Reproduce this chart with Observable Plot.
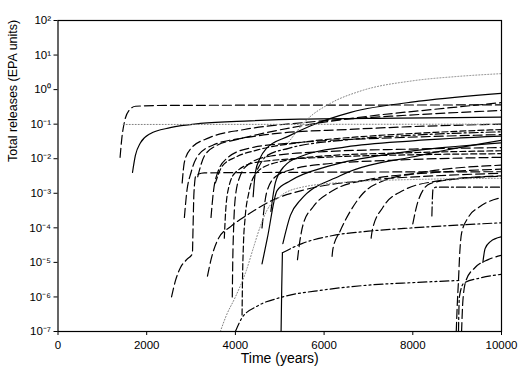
<!DOCTYPE html>
<html>
<head>
<meta charset="utf-8">
<script src="https://cdn.jsdelivr.net/npm/d3@7"></script>
<script src="https://cdn.jsdelivr.net/npm/@observablehq/plot@0.6"></script>
<style>
  html, body { margin: 0; padding: 0; background: #fff; }
</style>
</head>
<body>
<div id="chart"></div>
<script>
// ---- tick values / labels ----
const xTicks = [0, 2000, 4000, 6000, 8000, 10000];
const yTickExps = [-7, -6, -5, -4, -3, -2, -1, 0, 1, 2];
const xLabel = "Time (years)";
const yLabel = "Total releases (EPA units)";

// ---- release curves: [time (years), total release (EPA units)] ----
const c01 = [[1400,0.011],[1440,0.04],[1500,0.12],[1600,0.25],[1750,0.33],[2500,0.35],[10000,0.36]];
const c02 = [[1470,0.098],[10000,0.1]];
const c03 = [[1680,0.004],[1745,0.0124],[1860,0.029],[2080,0.053],[2530,0.079],[3210,0.105],[4330,0.125],[5460,0.14],[7700,0.15],[10000,0.16]];
const c04 = [[2560,1e-6],[2650,3e-6],[2760,7e-6],[2900,1.2e-5],[3030,1.8e-5],[3045,1e-4],[3065,1e-3],[3110,3.3e-3],[3300,3.9e-3],[10000,4.2e-3]];
const c05 = [[3370,4e-6],[3450,1.2e-5],[3620,5e-5],[3900,1.1e-4],[4300,2.5e-4],[4800,6e-4],[5600,1.3e-3],[7000,2.4e-3],[8500,3.2e-3],[10000,3.8e-3]];
const c06 = [[3930,1e-6],[3940,1e-5],[3960,1e-4],[4000,8e-4],[4100,3e-3],[4300,7e-3],[4800,0.012],[6000,0.016],[8000,0.019],[10000,0.021]];
const c07 = [[4150,3e-7],[4160,3e-6],[4180,3e-5],[4220,2e-4],[4300,1e-3],[4450,3.5e-3],[4800,7e-3],[6000,0.012],[8000,0.015],[10000,0.017]];
const c08 = [[2850,2e-4],[2900,1e-3],[3000,4e-3],[3150,0.012],[3500,0.025],[4200,0.04],[5000,0.055],[6500,0.07],[8000,0.085],[10000,0.1]];
const c09 = [[3150,0.003],[3300,0.012],[3600,0.025],[4000,0.035],[4500,0.05],[5500,0.09],[7000,0.17],[8500,0.27],[10000,0.42]];
const c10 = [[3550,0.002],[3700,0.006],[4000,0.011],[4500,0.018],[5500,0.03],[7000,0.045],[8500,0.058],[10000,0.07]];
const c11 = [[2800,0.002],[2850,0.008],[3000,0.02],[3400,0.04],[4200,0.07],[5500,0.11],[7500,0.17],[10000,0.25]];
const c12 = [[4500,0.005],[4700,0.012],[5200,0.02],[6500,0.035],[8000,0.048],[10000,0.06]];
const c13 = [[4400,0.0008],[4450,0.004],[4550,0.01],[4700,0.02],[5200,0.045],[5700,0.09],[6600,0.22],[8200,0.47],[10000,0.78]];
const c14 = [[4600,9e-6],[4720,5e-5],[4940,1.2e-3],[5240,2.3e-3],[6140,6.3e-3],[7710,0.015],[10000,0.029]];
const c15 = [[5070,3.5e-5],[5240,2.3e-4],[5460,6.2e-4],[6360,3.2e-3],[8160,0.0124],[10000,0.034]];
const c16 = [[4800,3e-4],[4900,2e-3],[5100,6e-3],[5500,0.012],[6500,0.022],[8000,0.033],[10000,0.045]];
const c17 = [[3450,2e-4],[3500,1e-3],[3600,4e-3],[3800,0.01],[4300,0.02],[5500,0.03],[7500,0.04],[10000,0.05]];
const c18 = [[3750,5e-5],[3780,3e-4],[3850,1.5e-3],[4000,4e-3],[4500,8e-3],[6000,0.011],[8000,0.013],[10000,0.014]];
const c19 = [[4600,1e-4],[4700,1e-3],[4900,3e-3],[5300,5e-3],[6000,7e-3],[7500,9e-3],[10000,0.011]];
const c20 = [[6180,1.5e-5],[6200,2.5e-5],[6360,8e-5],[6590,3e-4],[6880,1e-3],[7300,2.2e-3],[8200,4e-3],[10000,6.5e-3]];
const c21 = [[7060,5e-5],[7090,9e-5],[7330,4e-4],[7780,1.2e-3],[8500,2.2e-3],[10000,3.2e-3]];
const c22 = [[8000,1.3e-4],[8120,6e-4],[8390,1.9e-3],[9000,2.6e-3],[10000,3.1e-3]];
const c23 = [[8430,2.2e-4],[8440,6e-4],[8455,1.3e-3],[8520,1.5e-3],[10000,1.5e-3]];
const c24 = [[5400,1.2e-5],[5420,2e-5],[5530,1.3e-4],[5750,4e-4],[6200,1.2e-3],[7000,2.5e-3],[8500,4e-3],[10000,5e-3]];
const c25 = [[5030,1e-7],[5045,2e-6],[5060,1.9e-5]];
const c26 = [[5060,1.9e-5],[5500,3.5e-5],[6200,6e-5],[7000,8e-5],[8000,1e-4],[9000,1.2e-4],[10000,1.4e-4]];
const c27 = [[4000,1e-7],[4150,2.5e-7],[4500,5.5e-7],[5000,9.5e-7],[6000,1.6e-6],[7000,2.2e-6],[8000,2.6e-6],[9060,3e-6]];
const c28 = [[3660,1e-7],[3800,3e-7],[4000,1e-6],[4250,6e-6],[4400,2.5e-5],[4550,1e-4],[4700,3e-4],[5000,8e-4],[5500,1.5e-3],[6500,2.1e-3],[8000,2.5e-3],[10000,2.7e-3]];
const c29 = [[5200,0.03],[5600,0.13],[6140,0.4],[6810,0.9],[8000,1.8],[9000,2.4],[10000,2.9]];
const c30 = [[8980,1e-7],[9000,5e-7],[9030,3e-6],[9060,2e-5],[9100,7e-5],[9250,2e-4],[9500,4e-4],[10000,7.5e-4]];
const c31 = [[9100,1e-7],[9130,8e-7],[9200,3e-6],[9400,7e-6],[9700,1.2e-5],[10000,1.6e-5]];
const c32 = [[9030,1e-7],[9050,1e-6],[9150,2.5e-6],[9500,3.5e-6],[10000,4.5e-6]];
const c33 = [[9580,1e-5],[9630,2.5e-5],[9750,4e-5],[10000,5.5e-5]];

const curves = [c01,c02,c03,c04,c05,c06,c07,c08,c09,c10,c11,c12,c13,c14,c15,c16,c17,c18,c19,c20,c21,c22,c23,c24,c25,c26,c27,c28,c29,c30,c31,c32,c33];
const curveStyles = ["dash","dot","solid","dash","dash","dash","mdash","dash","dash","mdash","dash","dashdot","solid","solid","solid","solid","dash","mdash","dash","dash","dash","dash","dashdot","dash","solid","dashdot","dashdotdot","dot","dot","dash","dash","dashdot","solid"];

// ---- line styles ----
const styleDefs = {
  solid:      {stroke: "#000", dash: null,            width: 1.2},
  dash:       {stroke: "#000", dash: "9,4",           width: 1.2},
  mdash:      {stroke: "#000", dash: "6,3",           width: 1.2},
  dashdot:    {stroke: "#000", dash: "9,3,2,3",       width: 1.2},
  dashdotdot: {stroke: "#000", dash: "9,3,2,3,2,3",   width: 1.2},
  dot:        {stroke: "#808080", dash: "1,2",        width: 1}
};

const rows = curves.flatMap((c, i) => c.map(([t, v]) => ({t, v, id: i, style: curveStyles[i]})));

const sup = {"-":"\u207B","0":"\u2070","1":"\u00B9","2":"\u00B2","3":"\u00B3","4":"\u2074","5":"\u2075","6":"\u2076","7":"\u2077","8":"\u2078","9":"\u2079"};
const yTicks = yTickExps.map(e => Math.pow(10, e));
const fmtY = d => "10" + String(Math.round(Math.log10(d))).split("").map(c => sup[c]).join("");

const lineMarks = Object.entries(styleDefs).map(([name, s]) =>
  Plot.line(rows.filter(r => r.style === name), {
    x: "t", y: "v", z: "id", curve: "monotone-x",
    stroke: s.stroke, strokeWidth: s.width,
    strokeDasharray: s.dash || undefined,
    clip: true
  })
);

const chart = Plot.plot({
  width: 526,
  height: 384,
  marginLeft: 57.5,
  marginRight: 25,
  marginTop: 20,
  marginBottom: 53,
  style: {fontFamily: "'Liberation Sans', Arial, sans-serif", fontSize: "11.5px", color: "#000", background: "#fff"},
  x: {domain: [0, 10000]},
  y: {type: "log", domain: [1e-7, 100]},
  marks: [
    ...lineMarks,
    Plot.frame({stroke: "#000", strokeWidth: 1.2}),
    Plot.axisX({ticks: xTicks, tickFormat: d => String(d), tickSize: 4, tickPadding: 5, label: null}),
    Plot.axisY({ticks: yTicks, tickFormat: fmtY, tickSize: 4, tickPadding: 3, label: null}),
    Plot.text([xLabel], {frameAnchor: "bottom", dy: 31, fontSize: 14}),
    Plot.text([yLabel], {frameAnchor: "left", dx: -45, dy: -14, rotate: -90, fontSize: 12.5})
  ]
});
document.getElementById("chart").appendChild(chart);
</script>
</body>
</html>
